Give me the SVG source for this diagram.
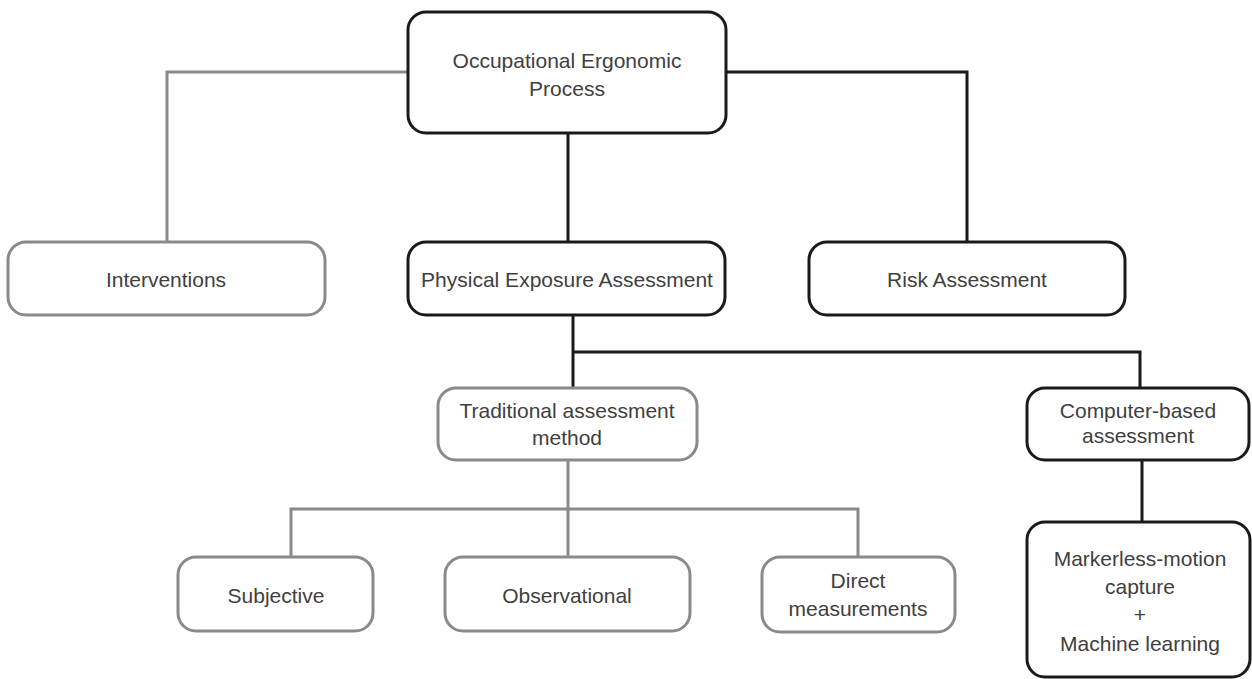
<svg xmlns="http://www.w3.org/2000/svg" width="1252" height="679" viewBox="0 0 1252 679">
  <style>
    .box { fill: #ffffff; stroke-width: 3; }
    .dark { stroke: #1a1a1a; }
    .light { stroke: #8a8a8a; }
    .lbl { font-family: "Liberation Sans", Arial, sans-serif; font-size: 21px; fill: #404040; text-anchor: middle; dominant-baseline: central; }
    .wire { fill: none; stroke-width: 3; }
  </style>
  <rect width="1252" height="679" fill="#ffffff"/>

  <!-- connectors -->
  <g id="connectors">
    <path class="wire light" d="M408,72 H167 V242"/>
    <path class="wire dark" d="M727,72 H967 V242"/>
    <path class="wire dark" d="M568,133 V242"/>
    <path class="wire dark" d="M573,315 V388"/>
    <path class="wire dark" d="M573,352 H1140 V388"/>
    <path class="wire light" d="M568,460 V557"/>
    <path class="wire light" d="M291,557 V509 H858 V557"/>
    <path class="wire dark" d="M1142,460 V522"/>
  </g>

  <g id="node-process">
    <rect class="box dark" x="408" y="12" width="318" height="121" rx="18"/>
    <text class="lbl" x="567" y="60">Occupational Ergonomic</text>
    <text class="lbl" x="567" y="88">Process</text>
  </g>

  <g id="node-interventions">
    <rect class="box light" x="8" y="242" width="317" height="73" rx="18"/>
    <text class="lbl" x="166" y="279">Interventions</text>
  </g>

  <g id="node-physical">
    <rect class="box dark" x="408" y="242" width="317" height="73" rx="18"/>
    <text class="lbl" x="567" y="279">Physical Exposure Assessment</text>
  </g>

  <g id="node-risk">
    <rect class="box dark" x="809" y="242" width="316" height="73" rx="18"/>
    <text class="lbl" x="967" y="279">Risk Assessment</text>
  </g>

  <g id="node-traditional">
    <rect class="box light" x="438" y="388" width="259" height="72" rx="18"/>
    <text class="lbl" x="567" y="410">Traditional assessment</text>
    <text class="lbl" x="567" y="437">method</text>
  </g>

  <g id="node-computer">
    <rect class="box dark" x="1027" y="388" width="222" height="72" rx="18"/>
    <text class="lbl" x="1138" y="410">Computer-based</text>
    <text class="lbl" x="1138" y="435">assessment</text>
  </g>

  <g id="node-subjective">
    <rect class="box light" x="178" y="557" width="195" height="74" rx="18"/>
    <text class="lbl" x="276" y="595">Subjective</text>
  </g>

  <g id="node-observational">
    <rect class="box light" x="445" y="557" width="245" height="74" rx="18"/>
    <text class="lbl" x="567" y="595">Observational</text>
  </g>

  <g id="node-direct">
    <rect class="box light" x="762" y="557" width="193" height="75" rx="18"/>
    <text class="lbl" x="858" y="580">Direct</text>
    <text class="lbl" x="858" y="608">measurements</text>
  </g>

  <g id="node-markerless">
    <rect class="box dark" x="1027" y="522" width="223" height="155" rx="18"/>
    <text class="lbl" x="1140" y="558">Markerless-motion</text>
    <text class="lbl" x="1140" y="586">capture</text>
    <text class="lbl" x="1140" y="614">+</text>
    <text class="lbl" x="1140" y="643">Machine learning</text>
  </g>
</svg>
